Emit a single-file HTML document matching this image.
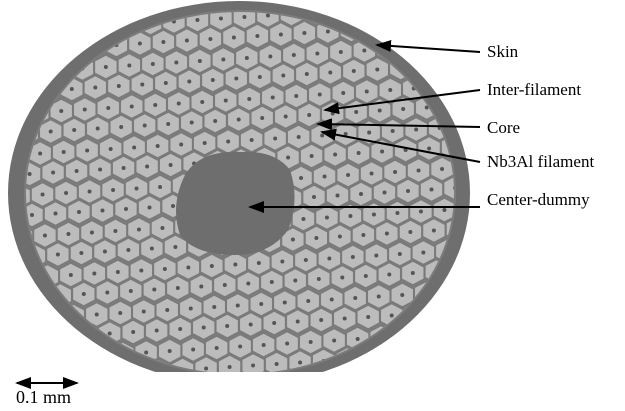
<!DOCTYPE html>
<html><head><meta charset="utf-8"><style>
body{margin:0;background:#fff;width:625px;height:406px;overflow:hidden}
text{font-family:"Liberation Serif",serif;font-size:17px;fill:#000}
</style></head><body>
<svg width="625" height="406" viewBox="0 0 625 406">
<defs>
<clipPath id="cut"><rect x="0" y="0" width="625" height="372"/></clipPath>
<clipPath id="fil"><ellipse cx="240" cy="193" rx="214" ry="181"/></clipPath>
<marker id="ah" markerWidth="8" markerHeight="6" refX="7" refY="3" orient="auto" markerUnits="strokeWidth"><path d="M0,0 L8,3 L0,6 z" fill="#000"/></marker>
<marker id="ah2" markerWidth="8" markerHeight="6" refX="1" refY="3" orient="auto" markerUnits="strokeWidth"><path d="M8,0 L0,3 L8,6 z" fill="#000"/></marker>
</defs>
<g clip-path="url(#cut)">
<ellipse cx="239" cy="193" rx="231" ry="192" fill="#6e6e6e"/>
<ellipse cx="240" cy="193" rx="216" ry="183" fill="#7c7c7c"/>
<g id="cells" clip-path="url(#fil)"></g>
<path d="M185,175 Q200,150 240,152 Q275,150 290,170 Q300,200 288,230 Q270,255 235,255 Q195,255 180,235 Q170,205 185,175 z" fill="#6e6e6e"/>
</g>
<g>
<line x1="480" y1="52" x2="377" y2="45" stroke="#000" stroke-width="2" marker-end="url(#ah)"/>
<line x1="480" y1="90" x2="325" y2="110" stroke="#000" stroke-width="2" marker-end="url(#ah)"/>
<line x1="480" y1="127" x2="318" y2="124" stroke="#000" stroke-width="2" marker-end="url(#ah)"/>
<line x1="480" y1="162" x2="322" y2="132" stroke="#000" stroke-width="2" marker-end="url(#ah)"/>
<line x1="480" y1="207" x2="250" y2="207" stroke="#000" stroke-width="2" marker-end="url(#ah)"/>
<text x="487" y="57">Skin</text>
<text x="487" y="95">Inter-filament</text>
<text x="487" y="133">Core</text>
<text x="487" y="167">Nb3Al filament</text>
<text x="487" y="205">Center-dummy</text>
<line x1="17" y1="383" x2="77" y2="383" stroke="#000" stroke-width="2" marker-end="url(#ah)" marker-start="url(#ah2)"/>
<text x="16" y="403" style="font-size:18px">0.1 mm</text>
</g>
</svg>
<script>
const g=document.getElementById('cells');
const ns='http://www.w3.org/2000/svg';
const dx=23.5, dy=20.5, r=13.2;
for(let row=-1;row<20;row++){
  for(let col=-1;col<22;col++){
    const cx=20+col*dx+(row%2?dx/2:0)+row*1.2, cy=10+row*dy-col*1.5;
    let pts=[];
    for(let k=0;k<6;k++){const a=Math.PI/6+k*Math.PI/3;pts.push((cx+r*Math.cos(a)).toFixed(1)+','+(cy+r*0.92*Math.sin(a)).toFixed(1));}
    const p=document.createElementNS(ns,'polygon');
    p.setAttribute('points',pts.join(' '));
    p.setAttribute('fill','#bcbcbc');
    p.setAttribute('stroke','#7a7a7a');
    p.setAttribute('stroke-width','1.5');
    
    
    g.appendChild(p);
    const c=document.createElementNS(ns,'circle');
    c.setAttribute('cx',cx);c.setAttribute('cy',cy);c.setAttribute('r','2');c.setAttribute('fill','#555');
    
    
    g.appendChild(c);
  }
}
</script>
</body></html>
